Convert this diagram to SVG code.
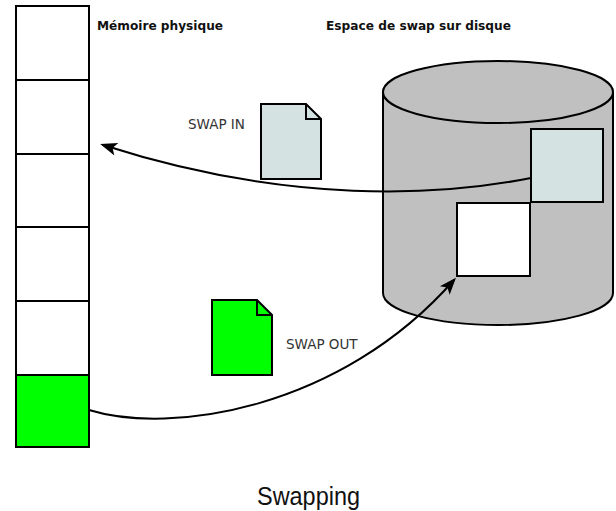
<svg xmlns="http://www.w3.org/2000/svg" width="616" height="511" viewBox="0 0 616 511">
<style>
.cell{fill:#ffffff;stroke:#000;stroke-width:2}
.green{fill:#00ff00}
.lbl{font-family:"DejaVu Sans",sans-serif;font-weight:bold;font-size:12px;fill:#111}
.swap{font-family:"DejaVu Sans",sans-serif;font-size:13.5px;fill:#333}
.cap{font-family:"Liberation Sans",sans-serif;font-size:25px;fill:#111}
.conn{fill:none;stroke:#000;stroke-width:2}
.doc{stroke:#000;stroke-width:2;stroke-linejoin:miter}
</style>
<defs>
<marker id="arr" markerUnits="userSpaceOnUse" markerWidth="30" markerHeight="30" refX="0" refY="0" orient="auto" overflow="visible">
<path d="M3,0 L-14,-6.5 L-10,0 L-14,6.5 Z" fill="#000"/>
</marker>
</defs>
<rect width="616" height="511" fill="#fff"/>
<g id="memory">
<rect class="cell" x="16" y="6" width="73" height="74"/>
<rect class="cell" x="16" y="80" width="73" height="74"/>
<rect class="cell" x="16" y="154" width="73" height="73"/>
<rect class="cell" x="16" y="227" width="73" height="74"/>
<rect class="cell" x="16" y="301" width="73" height="74"/>
<rect class="cell green" x="16" y="375" width="73" height="72"/>
</g>
<g id="label-memoire"><text class="lbl" x="97" y="30" textLength="126" lengthAdjust="spacingAndGlyphs">Mémoire physique</text></g>
<g id="label-swap"><text class="lbl" x="326" y="30" textLength="185" lengthAdjust="spacingAndGlyphs">Espace de swap sur disque</text></g>
<g id="disk">
<path d="M383,92 L383,293 A115,32 0 0 0 613,293 L613,92" fill="#c0c0c0" stroke="#000" stroke-width="2"/>
<ellipse cx="498" cy="92" rx="115" ry="31" fill="#c0c0c0" stroke="#000" stroke-width="2"/>
<rect x="531" y="129" width="72" height="73" fill="#d5e2e2" stroke="#000" stroke-width="2"/>
<rect x="457" y="203" width="73" height="73" fill="#ffffff" stroke="#000" stroke-width="2"/>
</g>
<g id="doc-in">
<path class="doc" d="M261,104 L306,104 L321,119 L321,179 L261,179 Z" fill="#d5e2e2"/>
<path class="doc" d="M306,104 L306,119 L321,119" fill="none"/>
</g>
<g id="doc-out">
<path class="doc" d="M212,300 L257,300 L272,315 L272,375 L212,375 Z" fill="#00ff00"/>
<path class="doc" d="M257,300 L257,315 L272,315" fill="none"/>
</g>
<g id="connectors">
<path class="conn" d="M531,178 C440,196 290,205 103,145" marker-end="url(#arr)"/>
<path class="conn" d="M89,410 C170,435 340,410 454,280" marker-end="url(#arr)"/>
</g>
<g id="label-in"><text class="swap" x="188" y="129">SWAP IN</text></g>
<g id="label-out"><text class="swap" x="286" y="349">SWAP OUT</text></g>
<g id="caption"><text class="cap" x="257" y="505" textLength="103" lengthAdjust="spacingAndGlyphs">Swapping</text></g>
</svg>
